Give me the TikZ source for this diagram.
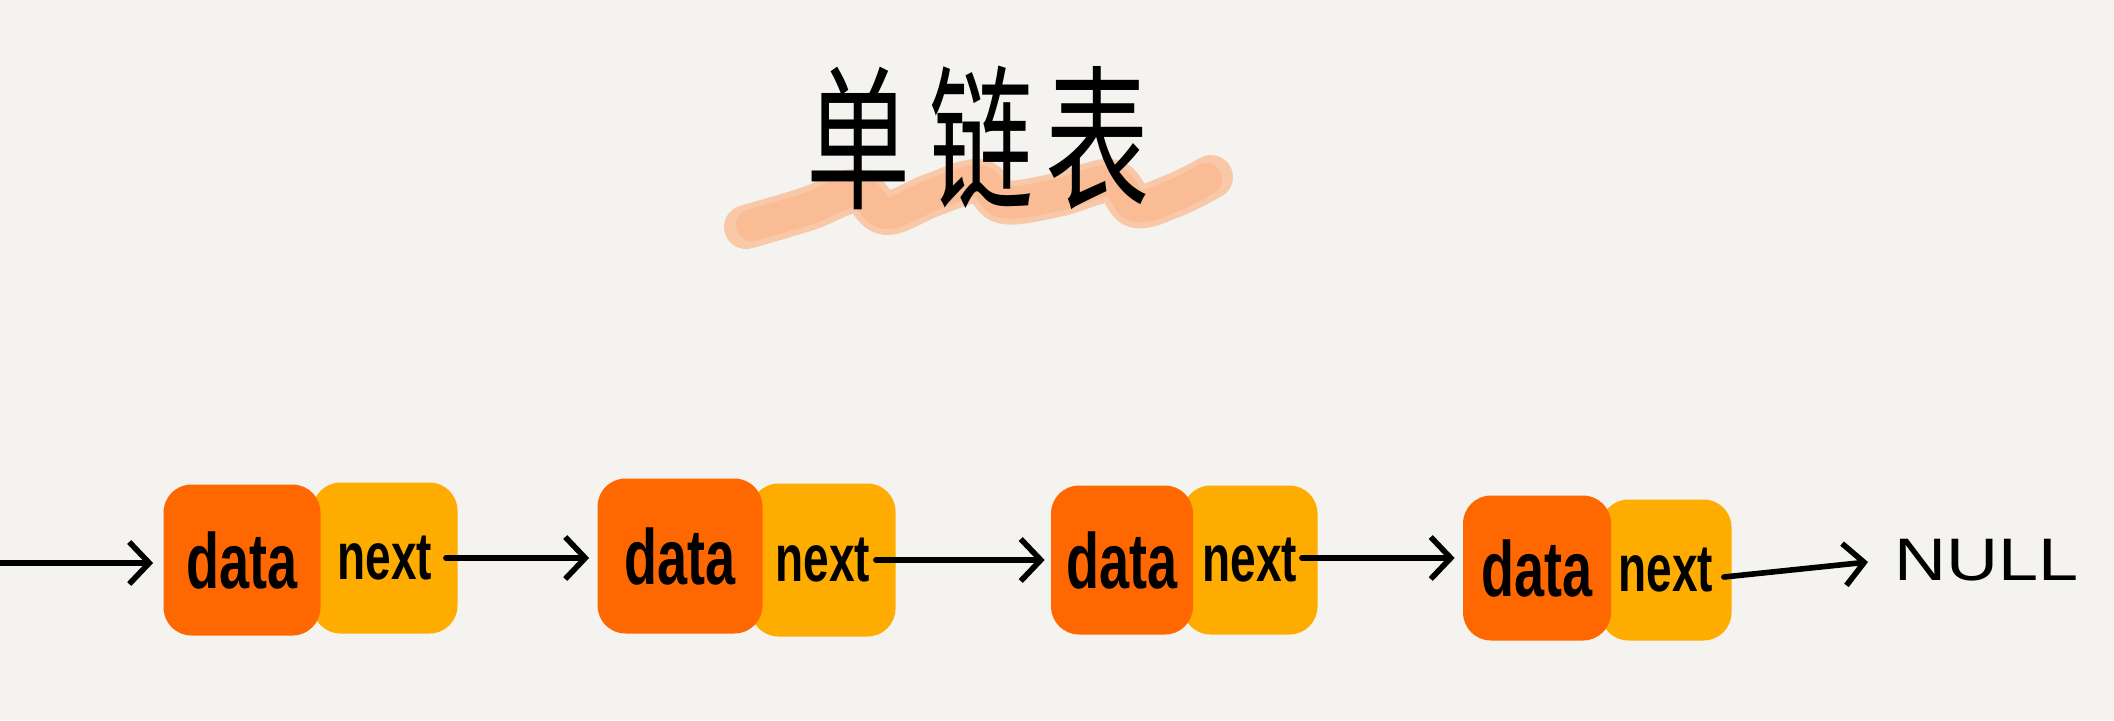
\documentclass[tikz,border=0pt]{standalone}
\usepackage{fontspec}
\usepackage{graphicx}
\setmainfont{Liberation Sans}
\newfontfamily\cjk{Noto Sans CJK SC}
\usetikzlibrary{arrows.meta}
\definecolor{bg}{RGB}{244,243,239}
\definecolor{datacol}{RGB}{255,104,0}
\definecolor{nextcol}{RGB}{255,172,0}
\definecolor{brushout}{RGB}{248,200,168}
\definecolor{brushin}{RGB}{249,188,148}
\tikzset{
  databox/.style={fill=datacol, rounded corners=14pt, inner sep=0pt,
    font=\bfseries\fontsize{27}{32}\selectfont},
  nextbox/.style={fill=nextcol, rounded corners=14pt, inner sep=0pt,
    font=\bfseries\fontsize{23}{28}\selectfont},
  arr/.style={line width=2.8pt, line cap=round,
    -{Straight Barb[length=10pt, width=21pt, line width=2.8pt]}},
  lbl/.style={inner sep=0pt, font=\fontsize{30}{36}\selectfont},
  titletxt/.style={inner sep=0pt, font=\cjk\fontsize{52}{60}\selectfont},
  brushstroke/.style={line cap=round, line join=round}
}
\newcommand{\tall}[1]{\scalebox{1}[1.45]{#1}}
\begin{document}
\begin{tikzpicture}[x=0.5pt, y=-0.5pt]
\fill[bg] (0,0) rectangle (2114,720);
\useasboundingbox (0,0) rectangle (2114,720);

% brush stroke behind title
\draw[brushstroke, brushout, line width=22pt]
  plot[smooth, tension=0.6] coordinates {(746,227) (807,209) (857,191) (886,213) (932,195) (979,181) (1004,202) (1057,195) (1111,181) (1136,206) (1175,195) (1211,177)};
\draw[brushstroke, brushin, line width=16pt]
  plot[smooth, tension=0.6] coordinates {(752,225) (807,209) (857,191) (886,213) (932,195) (979,181) (1004,202) (1057,195) (1111,181) (1136,206) (1175,195) (1206,179)};
\node[titletxt] (title) at (978,138) {\scalebox{1}[1.5]{单\hspace{10pt}链\hspace{6pt}表}};

% node 1
\node[nextbox, minimum width=72.5pt, minimum height=75.5pt] (n1) at (385,558) {\tall{next}};
\node[databox, minimum width=78.5pt, minimum height=75.5pt] (d1) at (242,560) {\tall{data}};
% node 2
\node[nextbox, minimum width=72.5pt, minimum height=76.5pt] (n2) at (823,560) {\tall{next}};
\node[databox, minimum width=82.5pt, minimum height=77.5pt] (d2) at (680,556) {\tall{data}};
% node 3
\node[nextbox, minimum width=67.5pt, minimum height=74.5pt] (n3) at (1250,560) {\tall{next}};
\node[databox, minimum width=71pt, minimum height=74.5pt] (d3) at (1122,560) {\tall{data}};
% node 4
\node[nextbox, minimum width=65.5pt, minimum height=70.5pt] (n4) at (1666,570) {\tall{next}};
\node[databox, minimum width=74pt, minimum height=72.5pt] (d4) at (1537,568) {\tall{data}};

\node[lbl, anchor=west] (null) at (1894,560) {\scalebox{1.2}[1]{NULL}};
\coordinate (start) at (0,563);

\draw[arr] (start) -- ([xshift=-5pt]d1.west |- start);
\draw[arr] ([xshift=-6pt]n1.east) -- ([xshift=-4pt]d2.west |- n1.east);
\draw[arr] ([xshift=-10pt]n2.east) -- ([xshift=-3pt]d3.west |- n2.east);
\draw[arr] ([xshift=-8pt,yshift=1pt]n3.east) -- ([xshift=-4pt,yshift=1pt]d4.west |- n3.east);
\draw[arr] ([xshift=-4pt,yshift=-3.5pt]n4.east) -- ([xshift=-13pt,yshift=-1pt]null.west);
\end{tikzpicture}
\end{document}
